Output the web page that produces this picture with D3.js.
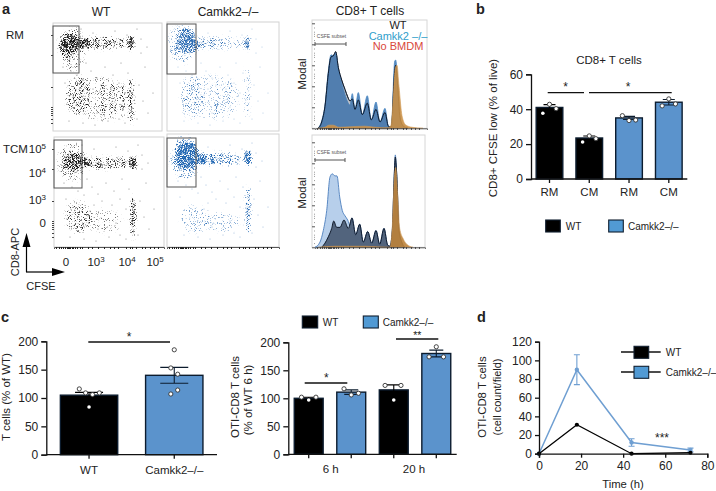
<!DOCTYPE html>
<html><head><meta charset="utf-8">
<script src="https://cdn.jsdelivr.net/npm/d3@7"></script>
<style>
html,body{margin:0;padding:0;background:#fff}
svg{display:block}
text{font-family:"Liberation Sans",Arial,sans-serif;fill:#222}
</style></head><body>
<svg id="c" width="716" height="491"></svg>
<script>
// ---------- DATA ----------
// Flow panels: density clusters [cfse, cd8, spreadX, spreadY, density]
const wtRM=[[20,20,13,7,.82],[14,22,9,13,.5],[20,26,12,22,.38],[35,20,3,6,.8],[44,20,3,6,.75],[53,20,2.5,6,.62],[60,20,2,5,.6],[68,20,2.5,6,.5],[78,20,3.5,7,.95],[50,20,25,7,.3],[25,72,13,20,.36],[50,78,3,20,.36],[60,78,3,20,.36],[70,78,3,18,.34],[78,78,3,24,.62],[45,75,30,22,.26]];
const koRM=[[20,16,9,10,.72],[20,24,13,7,.72],[15,22,14,20,.34],[35,21,3,6,.6],[45,21,3,6,.58],[54,21,2.5,6,.52],[62,21,2,6,.48],[71,21,2,6,.42],[80,21,3.5,7,.78],[50,21,25,7,.24],[25,75,12,22,.28],[50,78,3,20,.28],[62,78,3,20,.28],[80,70,3,26,.38],[45,75,30,22,.22]];
const wtTCM=[[20,25,12,9,.7],[18,25,14,20,.34],[34,26,4,5,.72],[44,26,3.5,5,.72],[54,26,2.5,6,.6],[61,27,2,5,.55],[69,26,2.5,7,.55],[79,26,4,7,.95],[50,26,25,7,.3],[24,80,13,16,.44],[50,84,18,12,.3],[79,80,3,22,.74]];
const koTCM=[[20,22,12,14,.92],[18,24,15,22,.44],[36,25,4,6,.85],[45,25,3,6,.75],[54,25,2.5,7,.65],[62,25,2.5,7,.6],[71,26,2.5,5,.5],[81,24,4,8,.98],[50,25,25,7,.32],[28,85,15,14,.32],[55,88,18,10,.27],[81,76,3,24,.64]];
// Sparse events, read by eye, shared shape across panels: [cfse, cd8]
const sparseA=[[33,40],[38,48],[44,55],[52,44],[60,52],[68,40],[75,50],[88,30],[92,44],[40,66],[48,62],[58,66],[66,60],[72,70],[86,62],[90,78],[95,90],[12,60],[16,98],[30,100],[42,102],[55,98],[66,96],[72,100],[84,96],[30,56],[36,72],[44,90],[62,84],[88,16],[94,24],[100,70],[24,52],[18,48],[10,44],[28,6],[40,10],[62,8],[74,12],[84,6]];
const gateBox=[[0,3,26,47],[0,2,29,50],[0,3,28,48],[0,4,29,49]];
const flowTickX=[2,5,7,9,11,13,14,15,16,18,19,21,23,26,28,34,38,44,50,56,60,64,72,76,78,82,88,91,96,100,104];
const flowTickY=[12,32,64,84,86,88,90,92,96,100];
const flowLabelsY=["10","10","10","0"], flowExpY=["5","4","3",""], flowValsY=[12,36,63,86];
const flowLabelsX=["0","10","10","10"], flowExpX=["","3","4","5"], flowValsX=[12,42,73,101];

// Histograms: [channel, modal %]
const h1Blue=[[3,0],[6.7,7],[10,22],[13.3,54],[16,70],[18.3,69],[20.7,72],[23.3,57],[26.7,43],[30,32],[32.7,25],[35,22],[37.3,33],[40,18],[43.3,34],[47.3,13],[52.3,31],[56.3,8],[61,25],[65,6],[70,19],[73.3,2],[76,1],[77.3,13],[78.7,50],[79.7,64],[80.7,65],[82.3,51],[85,10],[88.3,2],[93,0]];
const h1WT=[[3,0],[6.7,6],[10,21],[13.3,52],[16,68],[18.3,69],[20.7,73],[23.3,58],[26.7,46],[30,37],[32.7,30],[35,26],[37.3,28],[40,18],[43.3,27],[47.3,13],[52.3,24],[56.3,8],[61,18],[65,6],[70,15],[73.3,2],[76,1],[77.3,10],[78.7,40],[79.7,55],[80.7,60],[82.3,45],[85,10],[88.3,2],[93,0]];
const h1Org=[[3,0],[10,1],[14,3],[18,3],[24,1],[36,1.5],[50,2],[60,1],[73,.5],[76,3],[78,25],[80.5,58],[82,60],[84,40],[87,12],[91,3],[97,1],[108,0]];
const h2Blue=[[0,0],[5,5],[8.3,16],[11.7,35],[15,67],[17.3,70],[20,68],[22,68],[24.7,48],[27.3,35],[30,30],[32.7,26],[35,21],[37,28],[40.7,12],[44.7,22],[48.3,5],[52.7,15],[56.7,4],[61,16],[64.7,3],[69,18],[72.7,2],[75,1],[77.3,16],[79.3,70],[80.3,88],[81.7,70],[84,16],[86.7,5],[90,0]];
const h2WT=[[6.7,0],[10,4],[13.3,10],[16.7,18],[18.7,25],[21.7,19],[25,19],[29,26],[33.3,18],[37,28],[40.7,12],[44.7,22],[48.3,5],[52.7,15],[56.7,4],[61,16],[64.7,3],[69,18],[72.7,2],[75,1],[77.3,16],[79.3,70],[80.3,86],[81.7,70],[84,16],[86.7,5],[90,0]];
const h2Org=[[3,0],[20,1],[50,1],[75,0],[77.3,20],[79.3,65],[80.7,76],[82.7,50],[84.7,18],[88.3,8],[91.7,3],[98,0]];
const modalTicks=[0,20,40,60,80,100], modalMinor=[10,30,50,70,90,4,8,12,16,24,28,32,36,44,48,52,56,64,68,72,76,84,88,92,96];

// Panel b
const bCats=["RM1","CM1","RM2","CM2"], bLabels=["RM","CM","RM","CM"];
const bVals=[41,23.5,35,44], bErr=[1.6,1.1,.9,1.6];
const bPts=[[42.8,40.3,37.7],[24.7,23.1,21.2],[36.3,33.5,33.8],[45.9,43,41.9]];
const bJit=[[0,.25,-.25],[0,.25,-.25],[-.25,0,.25],[0,.25,-.25]];
const bColors=["#000","#000","#5b93cc","#5b93cc"];
// Panel c left
const c1Cats=["WT","Camkk2–/–"], c1Vals=[105,140], c1Err=[5,14];
const c1Pts=[[116,109,106,109,84],[185,153,142,114,107]];
const c1Jit=[[-.17,-.06,.06,.18,0],[0,-.06,.06,.06,-.06]];
// Panel c right
const c2Cats=["6W","6K","20W","20K"], c2Vals=[100,111,115,180], c2Err=[2,4,9,6];
const c2Pts=[[102,97,102],[117,106,109],[123,123,97],[192,174,174]];
const c2Jit=[[-.25,0,.25],[-.25,0,.25],[-.3,.25,0],[0,-.25,.25]];
// Panel d
const dTime=[0,18,44,72], dWT=[0,31,0,1], dKO=[0,90,12,4], dKOerr=[0,16,4,2];

const BLUE="#5b93cc", LEG="#519ad4";
const svg=d3.select("#c");
const txt=(x,y,s,o={})=>{const t=svg.append("text").attr("x",x).attr("y",y).text(s)
  .attr("font-size",o.fs||11).attr("text-anchor",o.a||"middle");
  if(o.w)t.attr("font-weight",o.w); if(o.c)t.style("fill",o.c);
  if(o.r)t.attr("transform",`rotate(-90 ${x} ${y})`); return t;};
const styleAxis=(g,w=1.3,fs=12)=>{g.selectAll("path.domain").attr("stroke","#111").attr("stroke-width",w);
  g.selectAll(".tick line").attr("stroke","#111").attr("stroke-width",w);
  g.selectAll(".tick text").attr("font-size",fs).style("fill","#222")
   .attr("font-family",'"Liberation Sans",Arial,sans-serif');};

// ---------- SPECKLE FILTERS ----------
const defs=svg.append("defs");
function speck(id,seed,color,w,h){
  const f=defs.append("filter").attr("id",id).attr("filterUnits","userSpaceOnUse")
    .attr("x",0).attr("y",0).attr("width",w).attr("height",h)
    .attr("color-interpolation-filters","sRGB");
  f.append("feGaussianBlur").attr("in","SourceAlpha").attr("stdDeviation",1.6).attr("result","b");
  f.append("feTurbulence").attr("type","fractalNoise").attr("baseFrequency",1.15).attr("numOctaves",2).attr("seed",seed).attr("result","n0");
  f.append("feColorMatrix").attr("in","n0").attr("type","matrix")
    .attr("values","0 0 0 0 0 0 0 0 0 0 0 0 0 0 0 2.6 0 0 0 -.85").attr("result","n");
  f.append("feComposite").attr("in","b").attr("in2","n").attr("operator","arithmetic")
    .attr("k1",0).attr("k2",1).attr("k3",1).attr("k4",-1).attr("result","s");
  const ct=f.append("feComponentTransfer").attr("in","s").attr("result","s2");
  ct.append("feFuncA").attr("type","linear").attr("slope",2).attr("intercept",0);
  f.append("feFlood").attr("flood-color",color).attr("result","col");
  f.append("feComposite").attr("in","col").attr("in2","s2").attr("operator","in").attr("result","dots");
  f.append("feGaussianBlur").attr("in","dots").attr("stdDeviation",.45);
}

// ---------- PANEL a: flow ----------
const panels=[
 {x:53,y:23,w:109,h:108,d:wtRM,c:"#1c1c1c",g:gateBox[0],k:.55},
 {x:167,y:22,w:112,h:109,d:koRM,c:"#2d6db4",g:gateBox[1],k:.4},
 {x:54,y:137,w:110,h:110,d:wtTCM,c:"#1c1c1c",g:gateBox[2],k:.55},
 {x:167,y:134,w:112,h:113,d:koTCM,c:"#2368b3",g:gateBox[3],k:.45}];
panels.forEach((p,i)=>{
  speck("sp"+i,3+i*7,p.c,p.w,p.h);
  const sx=d3.scaleLinear().domain([0,p.w]).range([0,p.w]);
  const sy=d3.scaleLinear().domain([0,p.h]).range([0,p.h]);
  const g=svg.append("g").attr("transform",`translate(${p.x},${p.y})`);
  g.append("rect").attr("width",p.w).attr("height",p.h).attr("fill","#fff").attr("stroke","#d2d2d2");
  g.append("g").attr("filter",`url(#sp${i})`).selectAll("ellipse").data(p.d).join("ellipse")
    .attr("cx",d=>sx(d[0])).attr("cy",d=>sy(d[1])).attr("rx",d=>d[2]).attr("ry",d=>d[3])
    .attr("fill","#000").attr("fill-opacity",d=>d[4]);
  g.append("g").selectAll("circle").data(sparseA).join("circle")
    .attr("cx",d=>sx(d[0]+(i%2))).attr("cy",d=>sy(d[1]+i)).attr("r",.55)
    .attr("fill",p.c).attr("fill-opacity",p.k);
  g.append("rect").attr("x",sx(p.g[0])).attr("y",sy(p.g[1])).attr("width",p.g[2]).attr("height",p.g[3])
    .attr("fill","none").attr("stroke","#555").attr("stroke-width",1);
  if(i>=2){
    const ax=g.append("g").attr("transform",`translate(0,${p.h})`)
      .call(d3.axisBottom(sx).tickValues(flowTickX).tickSize(2).tickFormat(""));
    ax.select("path.domain").attr("stroke","#555");
    ax.selectAll(".tick line").attr("stroke","#222");
  }
  if(i%2==0){
    const ay=g.append("g").call(d3.axisLeft(sy).tickValues(flowTickY).tickSize(2).tickFormat(""));
    ay.select("path.domain").attr("stroke","none");
    ay.selectAll(".tick line").attr("stroke","#444");
  }
});
txt(2,14,"a",{fs:14.5,w:"bold",a:"start"});
txt(101,16,"WT",{fs:12});
txt(228,16,"Camkk2–/–",{fs:12});
txt(6,39,"RM",{fs:11.5,a:"start"});
txt(3,153,"TCM",{fs:11.5,a:"start"});
function pow(x,y,b,e,anchor){
  const t=svg.append("text").attr("x",x).attr("y",y).attr("font-size",11.5).attr("text-anchor",anchor);
  t.append("tspan").text(b);
  if(e)t.append("tspan").text(e).attr("dy",-4).attr("font-size",8);
}
flowLabelsY.forEach((b,i)=>pow(46,137+flowValsY[i]+4,b,flowExpY[i],"end"));
flowLabelsX.forEach((b,i)=>pow(54+flowValsX[i],266,b,flowExpX[i],"middle"));
txt(19,252,"CD8-APC",{fs:11,r:true});
txt(41,290,"CFSE",{fs:11});
svg.append("line").attr("x1",26.5).attr("y1",272).attr("x2",26.5).attr("y2",242).attr("stroke","#000").attr("stroke-width",1.2);
svg.append("line").attr("x1",26).attr("y1",272).attr("x2",56).attr("y2",272).attr("stroke","#000").attr("stroke-width",1.2);
svg.append("path").attr("d","M26.5 233 L22.5 247 L30.5 247Z").attr("fill","#000");
svg.append("path").attr("d","M65 272 L52 268 L52 276Z").attr("fill","#000");

// ---------- Histograms ----------
function hist(x0,yBase,w,top,series,gatey,gatex2,labely){
  const sx=d3.scaleLinear().domain([0,w]).range([x0,x0+w]);
  const sy=d3.scaleLinear().domain([0,100]).range([yBase,yBase-105]);
  svg.append("rect").attr("x",x0-3).attr("y",top).attr("width",w+3).attr("height",yBase-top)
    .attr("fill","#fff").attr("stroke","#d6d6d6");
  const area=d3.area().x(d=>sx(d[0])).y0(yBase).y1(d=>sy(d[1])).curve(d3.curveMonotoneX);
  series.forEach(s=>{
    svg.append("path").datum(s.d).attr("d",area).attr("fill",s.f).attr("fill-opacity",s.o)
      .attr("stroke",s.s).attr("stroke-width",s.w);
  });
  const ay=svg.append("g").attr("transform",`translate(${x0},0)`)
    .call(d3.axisLeft(sy).tickValues(modalTicks).tickSize(3).tickFormat(""));
  ay.select("path.domain").attr("stroke","none");
  ay.selectAll(".tick line").attr("stroke","#555");
  const am=svg.append("g").attr("transform",`translate(${x0},0)`)
    .call(d3.axisLeft(sy).tickValues(modalMinor).tickSize(1).tickFormat(""));
  am.select("path.domain").attr("stroke","none");
  am.selectAll(".tick line").attr("stroke","#999");
  const ab=svg.append("g").attr("transform",`translate(0,${yBase})`)
    .call(d3.axisBottom(sx).tickValues(flowTickX).tickSize(1.5).tickFormat(""));
  ab.select("path.domain").attr("stroke","#555");
  ab.selectAll(".tick line").attr("stroke","#333");
  svg.append("path").attr("d",`M${x0} ${gatey-2}V${gatey+2}M${x0} ${gatey}H${gatex2}M${gatex2} ${gatey-2}V${gatey+2}`)
    .attr("stroke","#555").attr("fill","none");
  txt(x0+16.5,labely,"CSFE subset",{fs:5,c:"#555"});
}
hist(315,128.3,112,20,[
 {d:h1WT,f:"#c9cdd3",o:.9,s:"#555",w:.8},
 {d:h1Blue,f:"#4f83b8",o:.95,s:"#4a88c4",w:.8},
 {d:h1WT,f:"#24344c",o:.1,s:"#0d1a2e",w:1},
 {d:h1Org,f:"#c98f45",o:.9,s:"#d29a55",w:.6}],44,346,37.5);
hist(315,247.3,110,135,[
 {d:h2Blue,f:"#b7cfeb",o:1,s:"#4d7fbd",w:.9},
 {d:h2WT,f:"#2b3a52",o:.72,s:"#111b2c",w:1},
 {d:h2Org,f:"#bd8238",o:.9,s:"#cf9a5c",w:.6}],160,345,154);
txt(370,15,"CD8+ T cells",{fs:12});
txt(398,29,"WT",{fs:11});
txt(398,39.5,"Camkk2 –/–",{fs:11,c:"#2f9ecb"});
txt(398,50,"No BMDM",{fs:11,c:"#d9483b"});
txt(306,74,"Modal",{fs:11.5,r:true});
txt(306,193,"Modal",{fs:11.5,r:true});

// ---------- bars helper ----------
function bars(o){
  const x=d3.scaleBand().domain(o.cats).range(o.xr).paddingInner(o.pi).paddingOuter(o.po).align(o.al||.5);
  const y=d3.scaleLinear().domain(o.yd).range(o.yr);
  const g=svg.append("g");
  g.selectAll("rect").data(o.vals).join("rect")
    .attr("x",(d,i)=>x(o.cats[i])).attr("width",x.bandwidth())
    .attr("y",d=>y(d)).attr("height",d=>y(0)-y(d))
    .attr("fill",(d,i)=>o.colors[i]).attr("stroke","#0c1c2e").attr("stroke-width",1.4);
  o.vals.forEach((v,i)=>{
    const cx=x(o.cats[i])+x.bandwidth()/2, hw=o.capw;
    const e=o.err[i];
    g.append("path").attr("d",`M${cx-hw} ${y(v+e)}H${cx+hw}M${cx-hw} ${y(v-e)}H${cx+hw}M${cx} ${y(v+e)}V${y(v-e)}`)
      .attr("stroke",o.colors[i]=="#000"?"#000":"#0c1c2e").attr("fill","none").attr("stroke-width",1.1);
    o.pts[i].forEach((p,k)=>{
      const px=cx+o.jit[i][k]*x.bandwidth();
      const inside=y(p)>y(v)+1.5&&o.colors[i]=="#000";
      g.append("circle").attr("cx",px).attr("cy",y(p)).attr("r",inside?1.8:2.1)
        .attr("fill","#fff").attr("stroke",inside?"none":"#333").attr("stroke-width",.9);
    });
  });
  const ax=svg.append("g").attr("transform",`translate(0,${o.yr[0]})`)
    .call(d3.axisBottom(x).tickSize(4).tickFormat(o.fmt||(d=>d)).tickPadding(o.tp||4));
  styleAxis(ax,1.3,11.5);
  ax.select("path.domain").attr("d",`M${o.xr[0]} 0H${o.xr[1]}`);
  const ay=svg.append("g").attr("transform",`translate(${o.xr[0]},0)`)
    .call(d3.axisLeft(y).tickValues(o.ticks).tickSize(5).tickPadding(3));
  styleAxis(ay);
  return {x,y,ax};
}
const hline=(x1,x2,y)=>svg.append("line").attr("x1",x1).attr("x2",x2).attr("y1",y).attr("y2",y).attr("stroke","#111").attr("stroke-width",1.3);
const legRect=(x,y,w,h,c)=>svg.append("rect").attr("x",x).attr("y",y).attr("width",w).attr("height",h).attr("fill",c).attr("stroke","#111f30").attr("stroke-width",1.1);

// ---------- PANEL b ----------
txt(476,14,"b",{fs:14.5,w:"bold",a:"start"});
const bLab=new Map(bCats.map((c,i)=>[c,bLabels[i]]));
bars({cats:bCats,vals:bVals,err:bErr,pts:bPts,jit:bJit,colors:bColors,xr:[531,687.3],pi:.33,po:.13,yd:[0,60],yr:[179,74.3],ticks:[0,20,40,60],capw:6,fmt:d=>bLab.get(d),tp:5});
txt(609,64,"CD8+ T cells",{fs:11.5});
txt(496.5,128,"CD8+ CFSE low (% of live)",{fs:11.5,r:true});
hline(547.7,584,92.7); hline(589,671.7,92.7);
txt(565.7,91,"*",{fs:12}); txt(628,91,"*",{fs:12});
legRect(545.7,220,14.6,12,"#000"); legRect(608.7,220,14.6,12,LEG);
txt(565.7,230,"WT",{fs:10,a:"start"}); txt(628,230,"Camkk2–/–",{fs:10,a:"start"});

// ---------- PANEL c ----------
txt(1,322,"c",{fs:14.5,w:"bold",a:"start"});
bars({cats:c1Cats,vals:c1Vals,err:c1Err,pts:c1Pts,jit:c1Jit,colors:["#000",BLUE],xr:[46.3,217],pi:.327,po:.165,yd:[0,200],yr:[454.7,341.3],ticks:[0,50,100,150,200],capw:14,tp:7});
txt(10,397,"T cells (% of WT)",{fs:11.5,r:true});
hline(88.3,170,342); txt(129,340.5,"*",{fs:12});

const c2Lab={"6W":"","6K":"","20W":"","20K":""};
bars({cats:c2Cats,vals:c2Vals,err:c2Err,pts:c2Pts,jit:c2Jit,colors:["#000",BLUE,"#000",BLUE],xr:[288.3,456.7],pi:.32,po:.14,yd:[0,200],yr:[454.3,342.3],ticks:[0,50,100,150,200],capw:7,fmt:d=>c2Lab[d]});
txt(330.7,473,"6 h",{fs:11.5}); txt(414,473,"20 h",{fs:11.5});
txt(239,397,"OTI-CD8 T cells",{fs:11.5,r:true});
txt(252,400,"(% of WT 6 h)",{fs:11.5,r:true});
hline(304.7,347.3,383); txt(326.3,381.5,"*",{fs:12});
hline(396,438.3,339); txt(417.3,338.5,"**",{fs:10.5});
legRect(302.3,316,15.4,12,"#000"); legRect(363.3,316,15,12,LEG);
txt(322.7,325.5,"WT",{fs:10,a:"start"}); txt(382.7,325.5,"Camkk2–/–",{fs:10,a:"start"});

// ---------- PANEL d ----------
txt(477,322,"d",{fs:14.5,w:"bold",a:"start"});
const dx=d3.scaleLinear().domain([0,80]).range([539,707.3]);
const dy=d3.scaleLinear().domain([0,120]).range([453.7,341.7]);
const line=d3.line().x((d,i)=>dx(dTime[i])).y(d=>dy(d));
const kc="#6f9fd2";
svg.append("path").datum(dKO).attr("d",line).attr("fill","none").attr("stroke",kc).attr("stroke-width",1.5);
dKO.forEach((v,i)=>{ if(dKOerr[i]>0) svg.append("path")
  .attr("d",`M${dx(dTime[i])-3} ${dy(v+dKOerr[i])}h6M${dx(dTime[i])-3} ${dy(v-dKOerr[i])}h6M${dx(dTime[i])} ${dy(v+dKOerr[i])}V${dy(v-dKOerr[i])}`)
  .attr("stroke",kc).attr("fill","none").attr("stroke-width",1.1);});
svg.append("g").selectAll("circle").data(dKO).join("circle").attr("cx",(d,i)=>dx(dTime[i])).attr("cy",d=>dy(d)).attr("r",2.2).attr("fill",kc);
svg.append("path").datum(dWT).attr("d",line).attr("fill","none").attr("stroke","#000").attr("stroke-width",1.3);
svg.append("g").selectAll("circle").data(dWT).join("circle").attr("cx",(d,i)=>dx(dTime[i])).attr("cy",d=>dy(d)).attr("r",2.1).attr("fill","#000");
styleAxis(svg.append("g").attr("transform","translate(0,453.7)").call(d3.axisBottom(dx).tickValues([0,20,40,60,80]).tickSize(4).tickPadding(4)));
styleAxis(svg.append("g").attr("transform","translate(539,0)").call(d3.axisLeft(dy).tickValues([0,20,40,60,80,100,120]).tickSize(4).tickPadding(3)));
txt(623,488,"Time (h)",{fs:11.3});
txt(486,397,"OTI-CD8 T cells",{fs:11.4,r:true});
txt(501,397,"(cell count/field)",{fs:11,r:true});
txt(662,441.5,"***",{fs:12});
hline(621,660.7,352); hline(621,660.7,372);
legRect(634,346.3,14.7,12,"#000"); legRect(634,366.3,14.7,12,LEG);
txt(665.7,356,"WT",{fs:10,a:"start"}); txt(665.7,376,"Camkk2–/–",{fs:10,a:"start"});
</script></body></html>
